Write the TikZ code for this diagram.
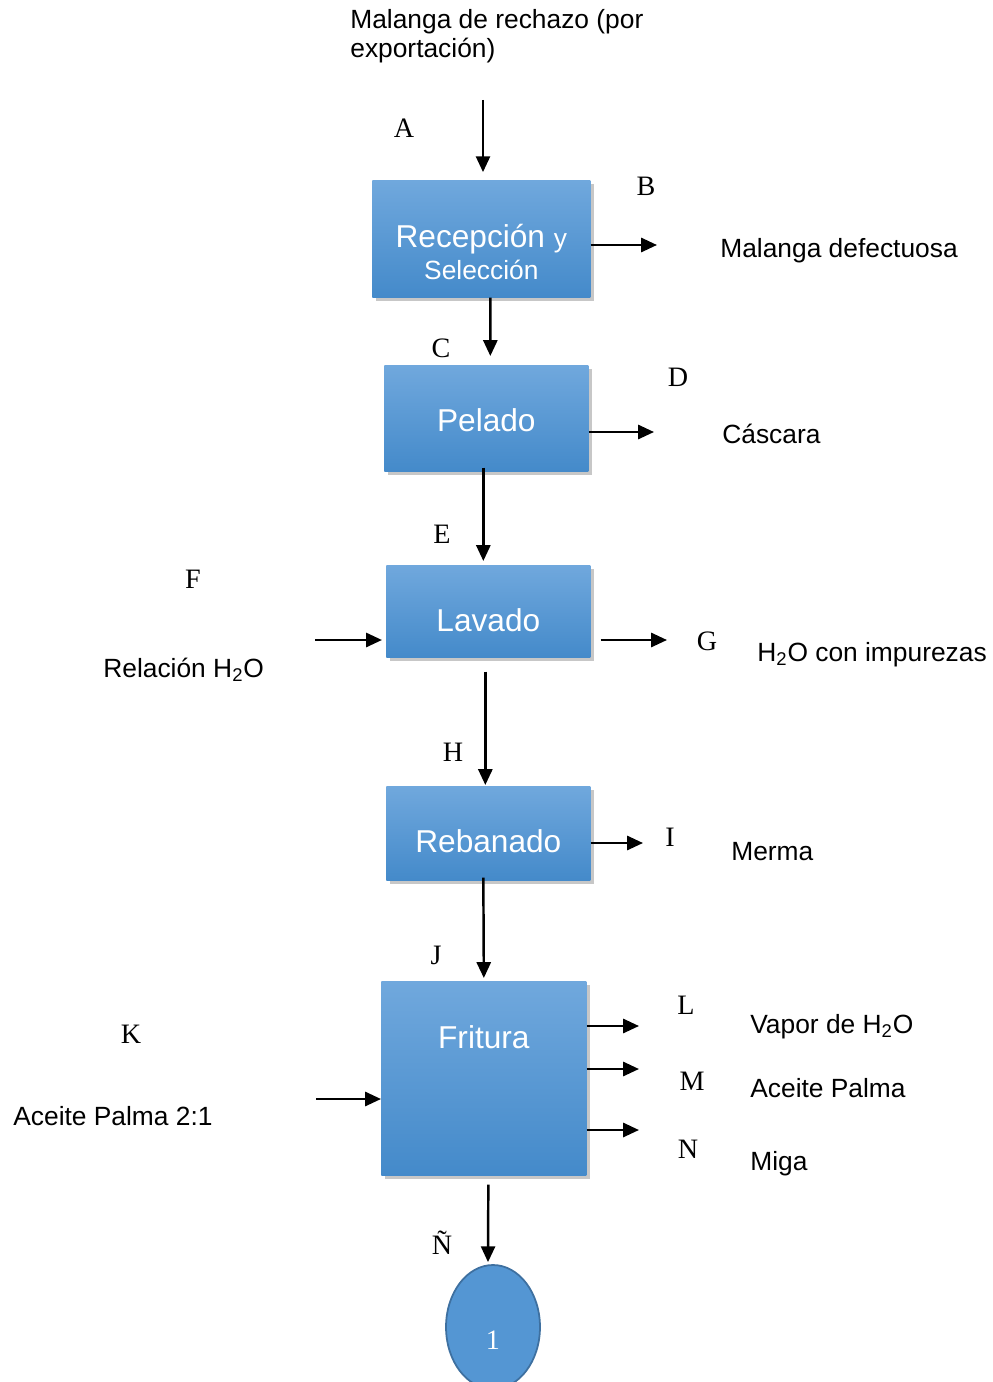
\documentclass[tikz,border=0pt]{standalone}
\usepackage{fontspec}
\setmainfont{Liberation Serif}
\newfontfamily\arial{Liberation Sans}
\usetikzlibrary{arrows.meta,positioning,calc,shadows,shapes.geometric}
\definecolor{boxtop}{RGB}{112,168,221}
\definecolor{boxbot}{RGB}{68,138,202}
\definecolor{ovfill}{RGB}{84,150,211}
\definecolor{ovline}{RGB}{62,112,160}
\begin{document}
\begin{tikzpicture}[
  x=0.02cm, y=-0.02cm,
  proc/.style={anchor=north west, inner sep=0pt, top color=boxtop, bottom color=boxbot, text=white,
    font=\arial\fontsize{18}{20}\selectfont,
    drop shadow={shadow xshift=0.8mm, shadow yshift=-0.8mm, opacity=0.22, fill=black}},
  letra/.style={font=\fontsize{16}{18}\selectfont, inner sep=0pt},
  txt/.style={anchor=west, inner sep=0pt, yshift=-0.9pt, font=\arial\fontsize{15}{17}\selectfont},
  ar/.style={-{Triangle[length=9pt, width=8pt]}, line width=1.4pt}
]
\useasboundingbox (0,0) rectangle (992,1382);
\node[txt, anchor=north west, align=left, font=\arial\fontsize{15}{16.5}\selectfont] (orig) at (350,7) {Malanga de rechazo (por\\exportación)};
\node[proc, minimum width=4.36cm, text height=1.98cm, text depth=0.36cm, align=center] (rec) at (372,180) {Recepción {\fontsize{15}{17}\selectfont y}\\[-2pt]{\fontsize{15}{17}\selectfont Selección}};
\node[proc, minimum width=4.08cm, text height=1.32cm, text depth=0.8cm] (pel) at (384,365) {Pelado};
\node[proc, minimum width=4.08cm, text height=1.32cm, text depth=0.52cm] (lav) at (386,565) {Lavado};
\node[proc, minimum width=4.08cm, text height=1.32cm, text depth=0.56cm] (reb) at (386,786) {Rebanado};
\node[proc, minimum width=4.1cm, text height=1.34cm, text depth=2.54cm] (fri) at (381,981) {Fritura};
\node[ellipse, draw=ovline, line width=1pt, fill=ovfill, minimum width=1.88cm, minimum height=2.48cm, inner sep=0pt,
  text=white, font=\fontsize{16}{18}\selectfont, text height=0.88cm, text depth=0pt] (uno) at (493,1327) {1};
\node[letra] (lA) at (404,128) {A};
\node[letra] (lB) at (646,186) {B};
\node[letra] (lC) at (441,348) {C};
\node[letra] (lD) at (678,377) {D};
\node[letra] (lE) at (442,534) {E};
\node[letra] (lF) at (193,579) {F};
\node[letra] (lG) at (707,641) {G};
\node[letra] (lH) at (453,752) {H};
\node[letra] (lI) at (670,837) {I};
\node[letra] (lJ) at (436,955) {J};
\node[letra] (lK) at (131,1034) {K};
\node[letra] (lL) at (686,1005) {L};
\node[letra] (lM) at (692,1081) {M};
\node[letra] (lN) at (688,1149) {N};
\node[letra] (lNn) at (442,1243) {Ñ};
\node[txt] (defect) at (720,249) {Malanga defectuosa};
\node[txt] (casc) at (722,432) {Cáscara};
\node[txt] (relac) at (103,668) {Relación H\textsubscript{2}O};
\node[txt] (impur) at (757,653) {H\textsubscript{2}O con impurezas};
\node[txt] (merma) at (731,850) {Merma};
\node[txt] (aceite) at (13,1114) {Aceite Palma 2:1};
\node[txt] (vapor) at (750,1025) {Vapor de H\textsubscript{2}O};
\node[txt] (acpal) at (750,1086) {Aceite Palma};
\node[txt] (miga) at (750,1162) {Miga};
\coordinate (inA) at (483,100);
\coordinate (outB) at (657,245);
\coordinate (outD) at (654,432);
\coordinate (inF) at (315,640);
\coordinate (outG) at (667,640);
\coordinate (outI) at (643,843);
\coordinate (inK) at (316,1099);
\coordinate (outL) at (639,1026);
\coordinate (outM) at (639,1069);
\coordinate (outN) at (639,1130);
\draw[ar, shorten >=4.5pt] (inA) -- (inA |- rec.north);
\draw[ar] (outB -| rec.east) -- (outB);
\draw[ar] ($(rec.south)+(9,0)$) -- ($(pel.north)+(4,-9)$);
\draw[ar] (outD -| pel.east) -- (outD);
\draw[ar] ($(pel.south)+(-3,-4)$) -- ($(lav.north)+(-5,-4)$);
\draw[ar, shorten >=2.3pt] (inF) -- (inF -| lav.west);
\draw[ar, shorten <=5.7pt] (outG -| lav.east) -- (outG);
\draw[ar] ($(lav.south)+(-3,14)$) -- ($(reb.north)+(-3,-1)$);
\draw[ar] (outI -| reb.east) -- (outI);
\draw[ar] ($(reb.south)+(-5,-3)$) -- ($(fri.north)+(0,-3)$);
\draw[ar] (inK) -- (inK -| fri.west);
\draw[ar] (outL -| fri.east) -- (outL);
\draw[ar] (outM -| fri.east) -- (outM);
\draw[ar] (outN -| fri.east) -- (outN);
\draw[ar] ($(fri.south)+(4.5,9)$) -- ($(uno.north)+(-5,-2)$);
\end{tikzpicture}
\end{document}
